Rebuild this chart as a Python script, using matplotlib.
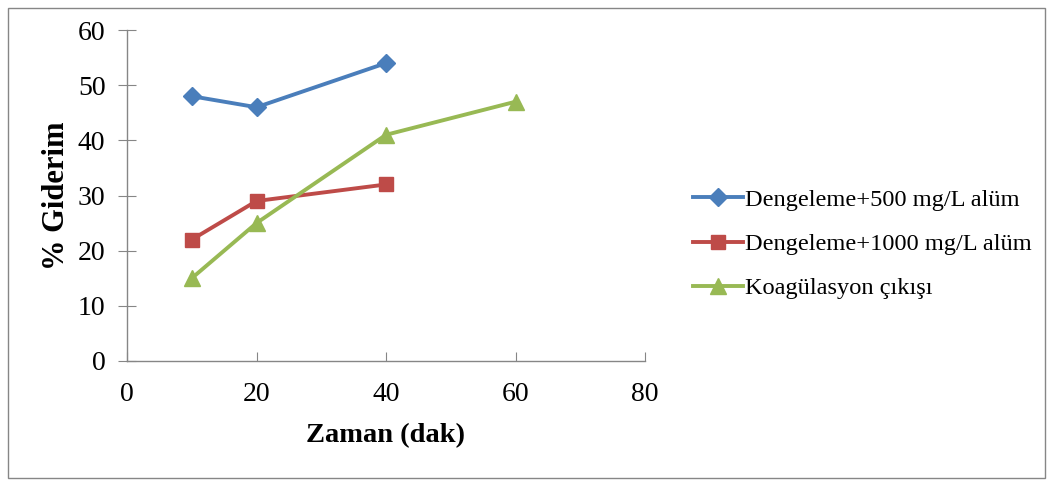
import matplotlib
matplotlib.use("Agg")
import matplotlib.pyplot as plt
from matplotlib.patches import Rectangle

plt.rcParams['font.family'] = ['Liberation Serif', 'DejaVu Serif']

series_names = ["Dengeleme+500 mg/L alüm", "Dengeleme+1000 mg/L alüm", "Koagülasyon çıkışı"]
x_500 = [10, 20, 40]
y_500 = [48, 46, 54]
x_1000 = [10, 20, 40]
y_1000 = [22, 29, 32]
x_koag = [10, 20, 40, 60]
y_koag = [15, 25, 41, 47]
x_ticks = [0, 20, 40, 60, 80]
y_ticks = [0, 10, 20, 30, 40, 50, 60]

fig = plt.figure(figsize=(10.52, 4.83), dpi=100)
ax = fig.add_axes([127/1052, 1-361/483, (645-127)/1052, (361-30)/483])

ax.plot(x_500, y_500, color='#4A7EBB', lw=2.8, marker='D', ms=9, label=series_names[0])
ax.plot(x_1000, y_1000, color='#BE4B48', lw=2.8, marker='s', ms=10.5, label=series_names[1])
ax.plot(x_koag, y_koag, color='#98B954', lw=2.8, marker='^', ms=11, label=series_names[2])

ax.set_xlim(0, 80)
ax.set_ylim(0, 60)
ax.set_xticks(x_ticks)
ax.set_yticks(y_ticks)
gray = '#868686'
for s in ['top', 'right']:
    ax.spines[s].set_visible(False)
for s in ['left', 'bottom']:
    ax.spines[s].set_color(gray)
    ax.spines[s].set_linewidth(1.0)
ax.tick_params(axis='x', direction='in', length=6.5, color=gray, labelsize=20, pad=15)
ax.tick_params(axis='y', direction='inout', length=13, color=gray, labelsize=20, pad=9)
ax.set_xlabel("Zaman (dak)", fontsize=20.5, fontweight='bold', labelpad=12)
ax.set_ylabel("% Giderim", fontsize=22, fontweight='bold', labelpad=5)

leg = fig.legend(loc='center left', bbox_to_anchor=(693/1052, 1-244/483), frameon=False,
                 fontsize=17.6, handlelength=2.05, handletextpad=0.08, labelspacing=0.9,
                 borderaxespad=0, borderpad=0)

fig.patches.append(Rectangle((8/1052, 1-478/483), (1045-8)/1052, (478-8)/483,
                             transform=fig.transFigure, fill=False, edgecolor=gray, lw=1.0))

fig.savefig("out.png", dpi=100)
